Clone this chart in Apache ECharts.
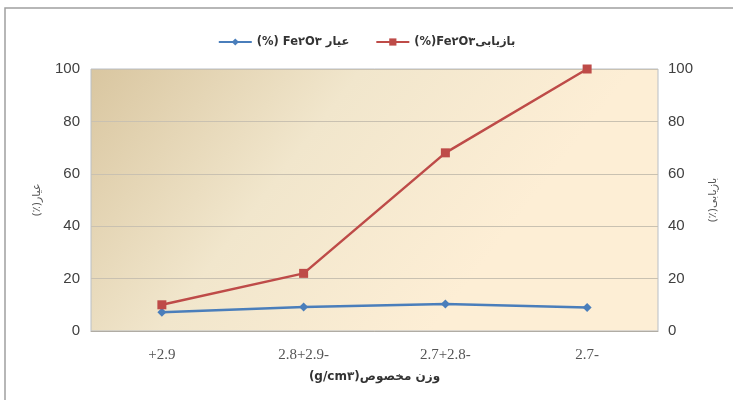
<!DOCTYPE html>
<html><head><meta charset="utf-8">
<script src="https://cdn.jsdelivr.net/npm/echarts@6/dist/echarts.min.js"></script>
<style>html,body{margin:0;padding:0;background:#fff}#c{width:733px;height:400px}</style>
</head><body><div id="c"></div>
<script>
const categories = ['+2.9', '2.8+2.9-', '2.7+2.8-', '2.7-'];
const gradeValues = [7.2, 9.2, 10.3, 9.0];
const recoveryValues = [10, 22, 68, 100];
const yTicks = [0, 20, 40, 60, 80, 100];
const gradeName = '(%) Fe\u06F2O\u06F3 عیار';
const recoveryName = '(%)Fe\u06F2O\u06F3بازیابی';

const chart = echarts.init(document.getElementById('c'), null, {renderer: 'canvas'});
const yAxisBase = {
  type: 'value', min: yTicks[0], max: yTicks[yTicks.length - 1], interval: 20,
  nameLocation: 'middle', nameRotate: 90,
  nameTextStyle: {fontSize: 11, color: '#555', fontFamily: 'DejaVu Sans'},
  axisLine: {show: false}, axisTick: {show: false},
  axisLabel: {fontSize: 15, color: '#404040', fontFamily: 'Liberation Sans'}
};
chart.setOption({
  animation: false,
  backgroundColor: '#fff',
  graphic: [{type: 'rect', shape: {x: 5, y: 8, width: 760, height: 420}, style: {fill: null, stroke: '#a0a0a0', lineWidth: 1.5}, silent: true}],
  legend: {
    top: 31, left: 'center', itemWidth: 33, itemHeight: 9, itemGap: 26,
    textStyle: {fontSize: 11.5, fontWeight: 'bold', color: '#333', fontFamily: 'DejaVu Sans'},
    data: [gradeName, recoveryName]
  },
  grid: {
    left: 91, right: 75, top: 69, bottom: 69, show: true,
    borderColor: '#b9bfc6', borderWidth: 1,
    backgroundColor: new echarts.graphic.LinearGradient(0, 0, 0.6, 1, [
      {offset: 0, color: '#d9c6a0'},
      {offset: 0.5, color: '#f1e6cc'},
      {offset: 1, color: '#fdeed5'}
    ])
  },
  xAxis: {
    type: 'category', data: categories, boundaryGap: true,
    name: '(g/cm\u06F3)وزن مخصوص', nameLocation: 'middle', nameGap: 40,
    nameTextStyle: {fontSize: 12, fontWeight: 'bold', color: '#333', fontFamily: 'DejaVu Sans'},
    axisLine: {show: true, lineStyle: {color: '#b0aca4'}}, axisTick: {show: false},
    axisLabel: {fontSize: 15, color: '#555', fontFamily: 'Liberation Serif', margin: 17}
  },
  yAxis: [
    Object.assign({}, yAxisBase, {
      position: 'left', name: '(٪)عیار', nameGap: 48,
      axisLabel: Object.assign({}, yAxisBase.axisLabel, {margin: 11}),
      splitLine: {show: true, lineStyle: {color: '#c9c1b1', width: 1.2}}
    }),
    Object.assign({}, yAxisBase, {
      position: 'right', name: '(٪)بازیابی', nameGap: 50,
      axisLabel: Object.assign({}, yAxisBase.axisLabel, {margin: 10}),
      splitLine: {show: false}
    })
  ],
  series: [
    {name: gradeName, type: 'line', yAxisIndex: 0, data: gradeValues,
     symbol: 'diamond', symbolSize: 9, itemStyle: {color: '#4a7ebb'},
     lineStyle: {color: '#4a7ebb', width: 2.5}},
    {name: recoveryName, type: 'line', yAxisIndex: 1, data: recoveryValues,
     symbol: 'rect', symbolSize: 9, itemStyle: {color: '#be4b48'},
     lineStyle: {color: '#be4b48', width: 2.5}}
  ]
});
</script></body></html>
